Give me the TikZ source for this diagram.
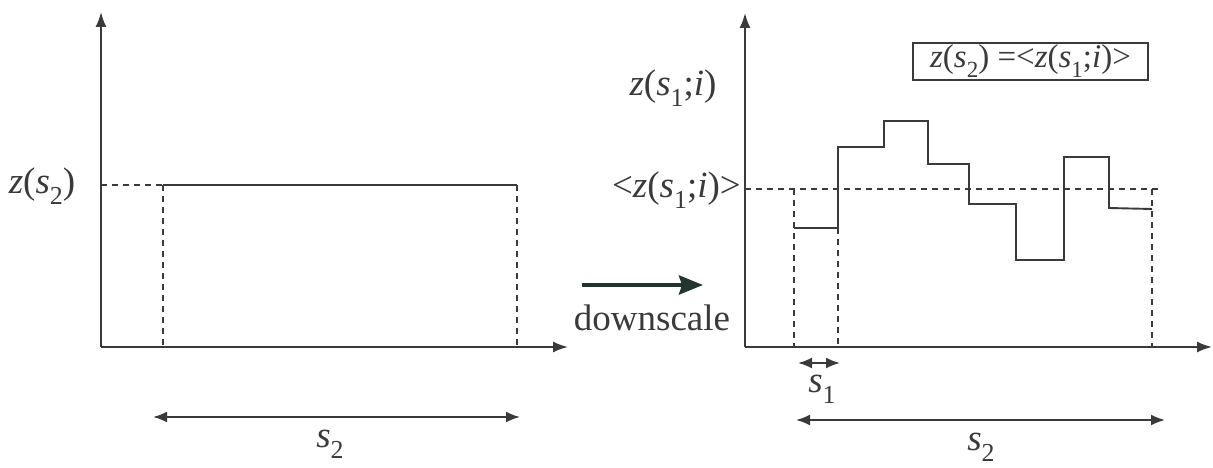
\documentclass[tikz,border=0pt]{standalone}
\usepackage{fontspec}
\setmainfont{Liberation Serif}
\usetikzlibrary{arrows.meta}
\definecolor{ink}{HTML}{3A3A3A}
\definecolor{arrowink}{HTML}{22352F}
\newcommand{\sbs}[1]{\raisebox{-0.3em}{\fontsize{0.7em}{0.7em}\selectfont #1}}
\begin{document}
\begin{tikzpicture}[x=1pt,y=-1pt,
  axis/.style={draw=ink, line width=1.9pt, -{Latex[length=15pt,width=11pt]}},
  solidline/.style={draw=ink, line width=1.9pt, line join=miter},
  dashline/.style={draw=ink, line width=1.7pt, dash pattern=on 6pt off 5pt},
  dimline/.style={draw=ink, line width=1.9pt, {Latex[length=14pt,width=11pt]}-{Latex[length=14pt,width=11pt]}},
  bigarrow/.style={draw=arrowink, line width=4pt, -{Stealth[length=24pt,width=19pt,inset=3pt]}},
  lbl/.style={text=ink, font=\fontsize{37}{42}\selectfont, inner sep=0pt},
  boxlbl/.style={draw=ink, line width=1.6pt, text=ink, font=\fontsize{33}{36}\selectfont,
    minimum width=235pt, minimum height=37pt, inner sep=0pt}]
\useasboundingbox (0,0) rectangle (1213,468);

% ---------- left panel ----------
\coordinate (lo) at (101,347);
\coordinate (ltop) at (101,12);
\coordinate (lright) at (568,347);
\draw[axis] (lo) -- (ltop);
\draw[axis] (lo) -- (lright);
\coordinate (la) at (101,185);
\coordinate (lb) at (163,185);
\coordinate (lc) at (517,185);
\coordinate (lbb) at (163,347);
\coordinate (lcb) at (517,347);
\draw[dashline] (la) -- (lb);
\draw[solidline] (lb) -- (lc);
\draw[dashline] (lb) -- (lbb);
\draw[dashline] (lc) -- (lcb);
\node[lbl] (zs2) at (42,186) {\textit{z}(\textit{s}\sbs{2})};
\coordinate (ld1) at (153,417);
\coordinate (ld2) at (520,417);
\draw[dimline] (ld1) -- (ld2);
\node[lbl] (ls2) at (330,444) {\textit{s}\sbs{2}};

% ---------- downscale arrow ----------
\coordinate (da) at (582,285);
\coordinate (db) at (703,285);
\draw[bigarrow] (da) -- (db);
\node[lbl] (down) at (652,318) {downscale};

% ---------- right panel ----------
\coordinate (ro) at (745,347);
\coordinate (rtop) at (745,13);
\coordinate (rright) at (1212,347);
\draw[axis] (ro) -- (rtop);
\draw[axis] (ro) -- (rright);
\coordinate (mean0) at (745,189);
\coordinate (mean1) at (1158,189);
\draw[dashline] (mean0) -- (mean1);
\coordinate (p0) at (794,228);
\coordinate (p1) at (838,228);
\coordinate (p2) at (838,147);
\coordinate (p3) at (884,147);
\coordinate (p4) at (884,121);
\coordinate (p5) at (928,121);
\coordinate (p6) at (928,164);
\coordinate (p7) at (969,164);
\coordinate (p8) at (969,204);
\coordinate (p9) at (1016,204);
\coordinate (p10) at (1016,260);
\coordinate (p11) at (1064,260);
\coordinate (p12) at (1064,157);
\coordinate (p13) at (1109,157);
\coordinate (p14) at (1109,208);
\coordinate (p15) at (1152,209);
\draw[solidline] (p0) -- (p1) -- (p2) -- (p3) -- (p4) -- (p5) -- (p6) -- (p7) -- (p8)
  -- (p9) -- (p10) -- (p11) -- (p12) -- (p13) -- (p14) -- (p15);
\coordinate (v1t) at (794,189);
\coordinate (v1b) at (794,347);
\coordinate (v2b) at (838,347);
\coordinate (v3t) at (1152,189);
\coordinate (v3b) at (1152,347);
\draw[dashline] (v1t) -- (v1b);
\draw[dashline] (p1) -- (v2b);
\draw[dashline] (v3t) -- (v3b);
\coordinate (s1a) at (798,363);
\coordinate (s1b) at (840,363);
\draw[dimline] (s1a) -- (s1b);
\node[lbl] (rs1) at (822,389) {\textit{s}\sbs{1}};
\coordinate (s2a) at (796,420);
\coordinate (s2b) at (1165,420);
\draw[dimline] (s2a) -- (s2b);
\node[lbl] (rs2) at (981,447) {\textit{s}\sbs{2}};
\node[lbl] (zs1i) at (673,88) {\textit{z}(\textit{s}\sbs{1};\textit{i})};
\node[lbl, anchor=east] (mean) at (741,190) {<\textit{z}(\textit{s}\sbs{1};\textit{i})>};
\node[boxlbl] (eq) at (1030.5,61.5) {\textit{z}(\textit{s}\sbs{2}) =<\textit{z}(\textit{s}\sbs{1};\textit{i})>\hspace{20pt}};
\end{tikzpicture}
\end{document}
